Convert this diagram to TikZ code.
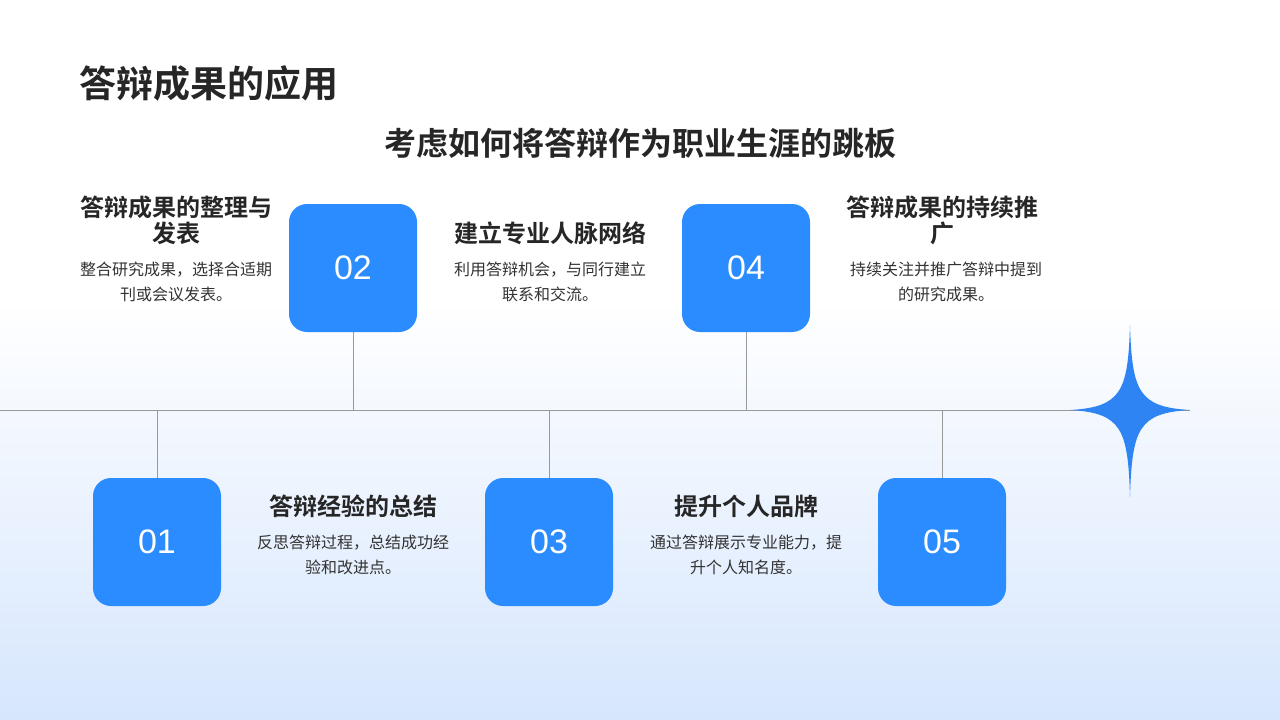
\documentclass[tikz,border=0pt]{standalone}
\usepackage{fontspec}
\newfontfamily\cjk{Noto Sans CJK SC}
\newfontfamily\cjkb{Noto Sans CJK SC Bold}
\setsansfont{Liberation Sans}
\begin{document}
\begin{tikzpicture}[x=1pt,y=-1pt,
  numbox/.style={fill=numblue,rounded corners=18pt,minimum width=128pt,minimum height=128pt,inner sep=0pt,text=white,font=\sffamily\fontsize{34}{40}\selectfont},
  head/.style={font=\cjkb\fontsize{24}{26}\selectfont,text=black!85,align=center},
  body/.style={font=\cjk\fontsize{16}{25}\selectfont,text=black!80,align=center},
  tl/.style={draw=gray!80,line width=1pt}]
\definecolor{numblue}{HTML}{2B8CFF}
\definecolor{bgblue}{HTML}{D6E6FD}
\definecolor{starblue}{HTML}{2E84F2}
\useasboundingbox (0,0) rectangle (1280,720);
\fill[white] (0,0) rectangle (1280,300);
\shade[top color=white,bottom color=bgblue] (0,300) rectangle (1280,720);
\node[anchor=west,font=\cjkb\fontsize{37}{42}\selectfont,text=black!85] (title) at (76,83) {答辩成果的应用};
\node[font=\cjkb\fontsize{32}{36}\selectfont,text=black!85] (sub) at (640,143) {考虑如何将答辩作为职业生涯的跳板};
\coordinate (L) at (0,410); \coordinate (R) at (1190,410);
\draw[tl] (L) -- (R);
\foreach \n/\x/\y in {01/157/542,02/353/268,03/549/542,04/746/268,05/942/542}{
  \coordinate (t\n) at (\x,410);
  \node[numbox] (b\n) at (\x,\y) {\n};
  \draw[tl] (b\n) -- (t\n);
}
\node[head] (h1) at (176,220) {答辩成果的整理与\\发表};
\node[body] (d1) at (176,282) {整合研究成果，选择合适期\\刊或会议发表。};
\node[head] (h2) at (550,233) {建立专业人脉网络};
\node[body] (d2) at (550,282) {利用答辩机会，与同行建立\\联系和交流。};
\node[head] (h4) at (942,220) {答辩成果的持续推\\广};
\node[body] (d4) at (946,282) {持续关注并推广答辩中提到\\的研究成果。};
\node[head] (h3) at (353,506) {答辩经验的总结};
\node[body] (d3) at (353,555) {反思答辩过程，总结成功经\\验和改进点。};
\node[head] (h5) at (746,506) {提升个人品牌};
\node[body] (d5) at (746,555) {通过答辩展示专业能力，提\\升个人知名度。};
\fill[starblue] (1130,325) .. controls (1132,392) and (1139,407) .. (1190,410)
  .. controls (1139,413) and (1132,428) .. (1130,497)
  .. controls (1128,428) and (1121,413) .. (1070,410)
  .. controls (1121,407) and (1128,392) .. (1130,325) -- cycle;
\end{tikzpicture}
\end{document}
